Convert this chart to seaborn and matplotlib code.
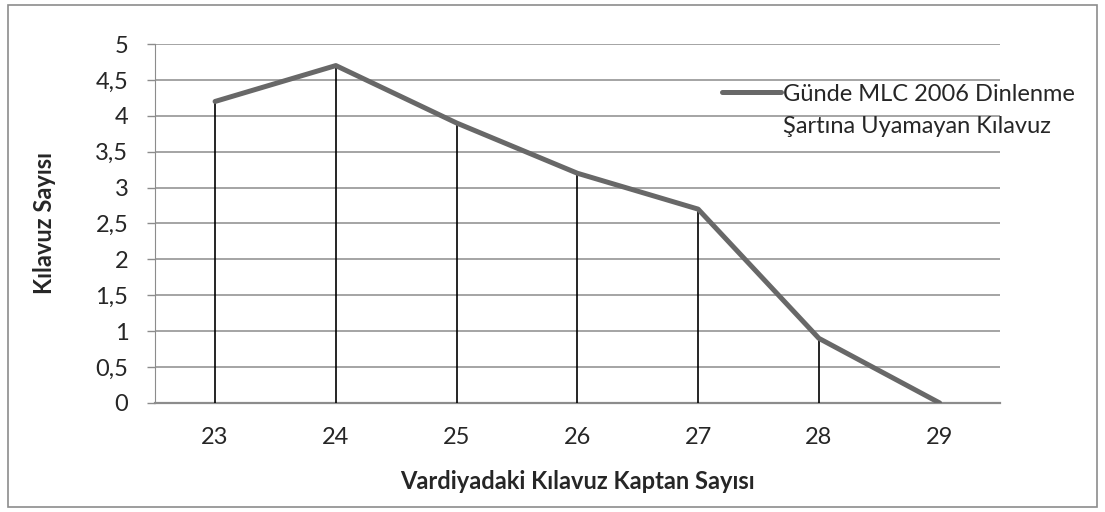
import matplotlib
matplotlib.use("Agg")
import matplotlib.pyplot as plt
from matplotlib.lines import Line2D
from matplotlib.patches import Rectangle
import pandas as pd
import seaborn as sns

# dados
kaptan_sayisi = [23, 24, 25, 26, 27, 28, 29]
kilavuz_sayisi = [4.2, 4.7, 3.9, 3.2, 2.7, 0.9, 0.0]
y_ticks = [0, 0.5, 1, 1.5, 2, 2.5, 3, 3.5, 4, 4.5, 5]
y_labels = ['0', '0,5', '1', '1,5', '2', '2,5', '3', '3,5', '4', '4,5', '5']
serie_linha1 = 'Günde MLC 2006 Dinlenme'
serie_linha2 = 'Şartına Uyamayan Kılavuz'

sns.set_style('white')
plt.rcParams['font.family'] = ['Lato', 'DejaVu Sans']

df = pd.DataFrame({'x': kaptan_sayisi, 'y': kilavuz_sayisi})

fig = plt.figure(figsize=(11.05, 5.12), dpi=100)
ax = fig.add_axes([0.140, 0.213, 0.765, 0.701])

cinza = '#686868'
ax.vlines(df['x'], 0, df['y'], color='black', linewidth=1.2, zorder=3)
sns.lineplot(data=df, x='x', y='y', ax=ax, color=cinza, linewidth=3.6,
             zorder=4, legend=False)

ax.set_xlim(22.5, 29.5)
ax.set_ylim(0, 5)
ax.set_yticks(y_ticks)
ax.set_yticklabels(y_labels)
ax.set_xticks(kaptan_sayisi)
ax.set_xticklabels([str(v) for v in kaptan_sayisi])
ax.yaxis.grid(True, color='#8c8c8c', linewidth=1.1)
ax.set_axisbelow(True)

for s in ['top', 'right']:
    ax.spines[s].set_visible(False)
ax.spines['left'].set_color('#8c8c8c')
ax.spines['bottom'].set_color('#8c8c8c')
ax.spines['bottom'].set_linewidth(1.6)
ax.tick_params(axis='y', left=True, length=6, width=1, color='#8c8c8c',
               labelsize=17, pad=13)
ax.tick_params(axis='x', bottom=False, labelsize=17, pad=14)

ax.set_xlabel('Vardiyadaki Kılavuz Kaptan Sayısı', fontsize=17,
              fontweight='bold', labelpad=16)
ax.set_ylabel('Kılavuz Sayısı', fontsize=17, fontweight='bold', labelpad=28)

handles = [Line2D([], [], color=cinza, linewidth=3.6),
           Line2D([], [], color='none')]
ax.legend(handles, [serie_linha1, serie_linha2], loc='upper left',
          bbox_to_anchor=(0.671, 0.89), frameon=False, fontsize=17,
          handlelength=2.5, handletextpad=0.1, labelspacing=0.5,
          borderpad=0, borderaxespad=0)

fig.patches.append(Rectangle((8 / 1105, 5 / 512), 1089 / 1105, 502 / 512,
                             transform=fig.transFigure, fill=False,
                             edgecolor='#8c8c8c', linewidth=1.2))

plt.savefig('out.png', dpi=100)
